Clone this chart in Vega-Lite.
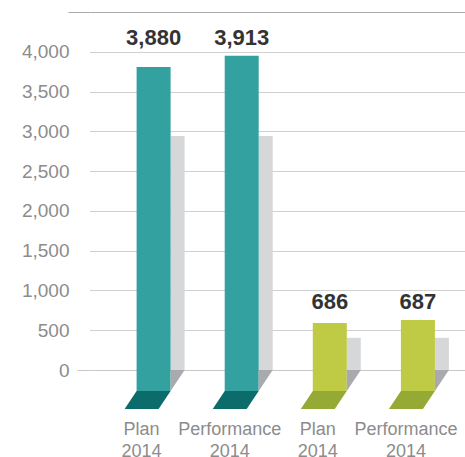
{
  "$schema": "https://vega.github.io/schema/vega-lite/v6.json",
  "width": 375,
  "height": 397,
  "padding": {"left": 0, "top": 11, "right": 0, "bottom": 0},
  "background": "white",
  "config": {"font": "Liberation Sans", "view": {"stroke": null}},
  "data": {
    "values": [
      {"key": "A|Plan 2014", "group": "A", "label": 3880, "value": 3810, "shadow": 2940},
      {"key": "A|Performance 2014", "group": "A", "label": 3913, "value": 3950, "shadow": 2940},
      {"key": "B|Plan 2014", "group": "B", "label": 686, "value": 590, "shadow": 405},
      {"key": "B|Performance 2014", "group": "B", "label": 687, "value": 630, "shadow": 405}
    ]
  },
  "encoding": {
    "x": {
      "field": "key",
      "type": "nominal",
      "sort": null,
      "scale": {"paddingInner": 0, "paddingOuter": 0.1283, "align": 0.865},
      "axis": {
        "title": null,
        "orient": "bottom",
        "domain": false,
        "ticks": false,
        "grid": false,
        "labelAngle": 0,
        "labelExpr": "split(split(datum.label, '|')[1], ' ')",
        "labelFont": "Liberation Sans",
        "labelFontSize": 18,
        "labelColor": "#8c8c8c",
        "labelLineHeight": 22,
        "labelPadding": 11,
        "labelOffset": -12,
        "labelBaseline": "top"
      }
    }
  },
  "layer": [
    {
      "mark": {"type": "bar", "width": 14, "xOffset": 24, "color": "#d6d7d9"},
      "encoding": {
        "y": {
          "field": "shadow",
          "type": "quantitative",
          "scale": {"domain": [-490, 4500], "nice": false, "zero": false},
          "axis": {
            "title": null,
            "values": [0, 500, 1000, 1500, 2000, 2500, 3000, 3500, 4000, 4500],
            "labelExpr": "datum.value > 4000 ? '' : datum.label",
            "format": ",d",
            "domain": false,
            "grid": true,
            "gridColor": {"condition": [{"test": "datum.value === 0", "value": "#c8c8c8"}, {"test": "datum.value === 4500", "value": "#a9a9a9"}], "value": "#a0a0a0"},
            "gridDash": {"condition": {"test": "datum.value === 0 || datum.value === 4500", "value": []}, "value": [1, 1]},
            "gridWidth": 1,
            "ticks": true,
            "tickSize": {"condition": {"test": "datum.value === 4500", "value": 22}, "value": 13},
            "tickColor": {"condition": {"test": "datum.value === 0", "value": "#c8c8c8"}, "value": "#a9a9a9"},
            "tickOpacity": {"condition": {"test": "datum.value === 0 || datum.value === 4500", "value": 1}, "value": 0},
            "labelPadding": 8,
            "labelFont": "Liberation Sans",
            "labelFontSize": 19,
            "labelColor": "#8c8c8c",
            "minExtent": 90,
            "maxExtent": 90
          }
        },
        "y2": {"datum": 0}
      }
    },
    {
      "mark": {"type": "bar", "width": 34},
      "encoding": {
        "y": {"field": "value", "type": "quantitative"},
        "y2": {"datum": -264},
        "color": {"condition": {"test": "datum.group === 'A'", "value": "#33a19f"}, "value": "#bfca45"}
      }
    },
    {
      "mark": {"type": "point", "shape": "M17,0L31,0L17,21Z", "size": 4, "filled": true, "opacity": 1, "strokeWidth": 0, "color": "#a9aaad"},
      "encoding": {"y": {"datum": 0}}
    },
    {
      "mark": {"type": "point", "shape": "M-17,21L17,21L5,39L-29,39Z", "size": 4, "filled": true, "opacity": 1, "strokeWidth": 0},
      "encoding": {
        "y": {"datum": 0},
        "color": {"condition": {"test": "datum.group === 'A'", "value": "#0c6c6b"}, "value": "#95aa34"}
      }
    },
    {
      "transform": [{"joinaggregate": [{"op": "max", "field": "value", "as": "gmax"}], "groupby": ["group"]}],
      "mark": {"type": "text", "dy": -11, "baseline": "alphabetic", "align": "center", "font": "Liberation Sans", "fontSize": 22, "fontWeight": "bold", "color": "#333333"},
      "encoding": {
        "y": {"field": "gmax", "type": "quantitative"},
        "text": {"field": "label", "type": "quantitative", "format": ",d"}
      }
    }
  ]
}
